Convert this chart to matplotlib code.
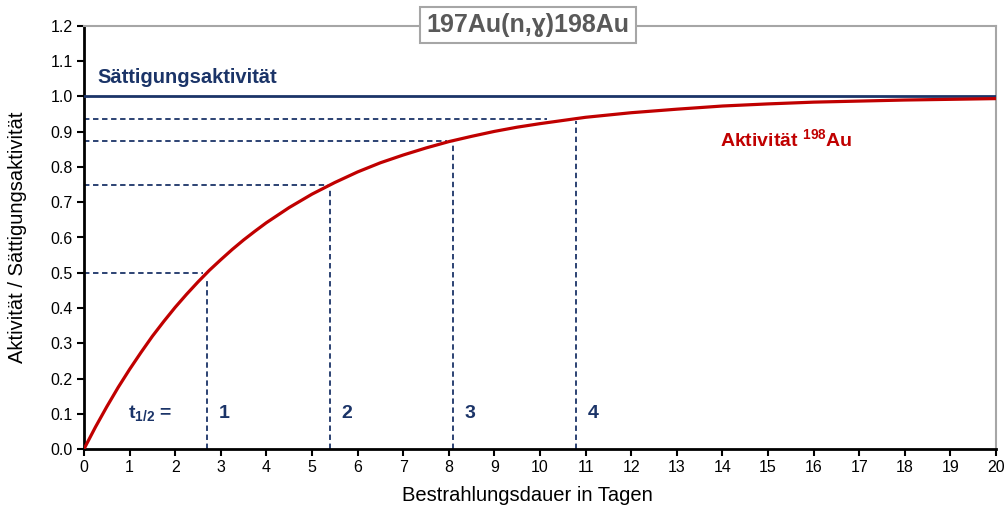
import matplotlib
matplotlib.use("Agg")
import matplotlib.pyplot as plt

plt.rcParams['font.family'] = ['Liberation Sans', 'DejaVu Sans']
plt.rcParams['mathtext.fontset'] = 'custom'
plt.rcParams['mathtext.rm'] = 'Liberation Sans'
plt.rcParams['mathtext.bf'] = 'Liberation Sans:bold'

# Irradiation time in days and relative activity A/A_sat of Au-198
days = [0, 0.25, 0.5, 0.75, 1, 1.25, 1.5, 1.75, 2, 2.25, 2.5, 2.75, 3, 3.25,
        3.5, 3.75, 4, 4.5, 5, 5.5, 6, 6.5, 7, 7.5, 8, 8.5, 9, 9.5, 10, 11,
        12, 13, 14, 15, 16, 17, 18, 19, 20]
activity = [0.000, 0.062, 0.120, 0.175, 0.226, 0.274, 0.320, 0.362, 0.402,
            0.439, 0.474, 0.507, 0.537, 0.566, 0.593, 0.618, 0.642, 0.685,
            0.723, 0.756, 0.786, 0.812, 0.834, 0.854, 0.872, 0.887, 0.901,
            0.913, 0.923, 0.941, 0.954, 0.964, 0.973, 0.979, 0.984, 0.987,
            0.990, 0.992, 0.994]

saturation = 1.0

# Multiples of the half-life and the activity level reached there
halflife_marks = [2.7, 5.4, 8.1, 10.8]
halflife_labels = ['1', '2', '3', '4']
levels = [0.5, 0.75, 0.875, 0.9375]
level_ends = [2.6, 5.35, 7.95, 10.15]
vertical_tops = [0.48, 0.74, 0.875, 0.93]

x_ticks = list(range(0, 21))
y_ticks = [round(0.1 * i, 1) for i in range(0, 13)]

navy = '#1B3468'
red = '#C00000'
grey = '#A6A6A6'

fig = plt.figure(figsize=(10.08, 5.11), dpi=100)
ax = fig.add_axes([84 / 1008, 1 - 449 / 511, (996 - 84) / 1008, (449 - 26) / 511])

# guide lines
for lvl, xe in zip(levels, level_ends):
    ax.plot([0, xe], [lvl, lvl], color=navy, lw=1.3, ls=(0, (3, 2)), zorder=2)
for xm, yt in zip(halflife_marks, vertical_tops):
    ax.plot([xm, xm], [0, yt], color=navy, lw=1.3, ls=(0, (3, 2)), zorder=2)

ax.axhline(saturation, color=navy, lw=2, zorder=3)
ax.plot(days, activity, color=red, lw=2.3, zorder=4, solid_capstyle='round',
        solid_joinstyle='round')

ax.set_xlim(0, 20)
ax.set_ylim(0, 1.2)
ax.set_xticks(x_ticks)
ax.set_yticks(y_ticks)
ax.set_yticklabels([f'{v:.1f}' for v in y_ticks])
ax.tick_params(axis='both', direction='out', length=5, width=1.5, labelsize=11.5,
               colors='black', pad=3)

for s in ('left', 'bottom'):
    ax.spines[s].set_color('black')
    ax.spines[s].set_linewidth(2)
for s in ('top', 'right'):
    ax.spines[s].set_color(grey)
    ax.spines[s].set_linewidth(1.5)

ax.set_xlabel('Bestrahlungsdauer in Tagen', fontsize=14.5, va='center')
ax.set_ylabel('Aktivität / Sättigungsaktivität', fontsize=14.5, va='center')
ax.xaxis.set_label_coords((527 - 84) / 912, -(495 - 449) / 423)
ax.yaxis.set_label_coords(-(84 - 18) / 912, 0.5)

ax.text(0.29, 1.055, 'Sättigungsaktivität', color=navy, fontsize=14.5,
        fontweight='bold', va='center', ha='left')
ax.text(13.95, 0.878, r'Aktivität $\mathbf{^{198}}$Au', color=red, fontsize=14,
        fontweight='bold', va='center', ha='left')

ax.text(0.96, 0.10, r't$_{\mathbf{1/2}}$ =', color=navy, fontsize=14,
        fontweight='bold', va='center', ha='left')
for xm, lab in zip(halflife_marks, halflife_labels):
    ax.text(xm + 0.25, 0.10, lab, color=navy, fontsize=14, fontweight='bold',
            va='center', ha='left')

fig.text(528 / 1008, 1 - 25 / 511, '197Au(n,ɣ)198Au', color='#595959',
         fontsize=18, fontweight='bold', ha='center', va='center',
         bbox=dict(boxstyle='square,pad=0.25', fc='white', ec=grey, lw=1.5))

fig.savefig('out.png', dpi=100)
